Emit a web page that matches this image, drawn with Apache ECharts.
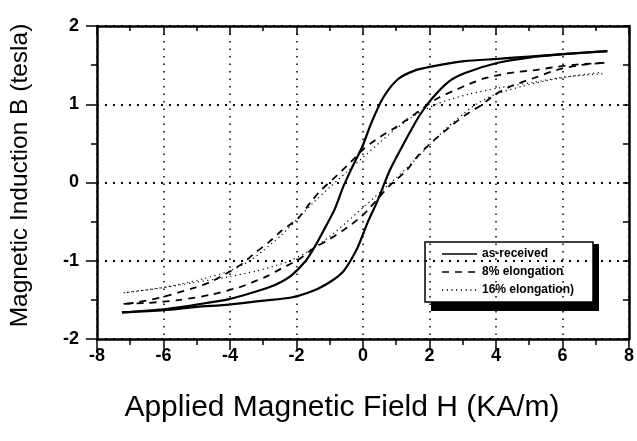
<!DOCTYPE html>
<html>
<head>
<meta charset="utf-8">
<script src="https://cdn.jsdelivr.net/npm/echarts@6/dist/echarts.min.js"></script>
<style>
  html, body { margin: 0; padding: 0; background: #fff; }
  #chart { width: 637px; height: 441px; }
</style>
</head>
<body>
<div id="chart"></div>
<script>
// Hysteresis loops B(H): each loop is an upper (H decreasing) and a lower (H increasing) branch.
const seriesNames = ['as-received', '8% elongation', '16% elongation)'];

const asReceivedUpper = [
  [7.35, 1.68], [6.0, 1.64], [5.0, 1.61], [4.05, 1.58], [3.05, 1.55], [2.05, 1.48],
  [1.55, 1.43], [1.05, 1.32], [0.6, 1.08], [0.25, 0.76], [-0.03, 0.45], [-0.33, 0.19],
  [-0.59, -0.05], [-0.85, -0.34], [-1.18, -0.61], [-1.45, -0.82], [-1.72, -1.0],
  [-2.16, -1.19], [-2.6, -1.3], [-3.05, -1.37], [-4.03, -1.49], [-5.0, -1.56],
  [-6.0, -1.62], [-7.25, -1.66]
];
const asReceivedLower = [
  [-7.25, -1.66], [-6.0, -1.63], [-5.0, -1.59], [-4.03, -1.56], [-3.0, -1.51],
  [-2.16, -1.47], [-1.37, -1.36], [-0.88, -1.24], [-0.6, -1.14], [-0.39, -1.01],
  [-0.15, -0.82], [0.15, -0.5], [0.41, -0.26], [0.8, 0.15], [1.19, 0.47], [1.69, 0.85],
  [2.07, 1.07], [2.58, 1.29], [3.07, 1.4], [4.06, 1.53], [5.04, 1.6], [6.04, 1.64],
  [7.35, 1.68]
];

const elong8Upper = [
  [7.26, 1.53], [6.5, 1.51], [5.84, 1.48], [5.24, 1.44], [4.6, 1.41], [4.15, 1.38],
  [3.65, 1.33], [3.2, 1.26], [2.77, 1.18], [2.3, 1.09], [1.9, 0.98], [1.48, 0.85],
  [1.0, 0.71], [0.5, 0.58], [0.05, 0.44], [-0.35, 0.27], [-0.78, 0.09], [-1.27, -0.1],
  [-1.57, -0.25], [-1.96, -0.46], [-2.46, -0.62], [-2.85, -0.77], [-3.25, -0.9],
  [-3.64, -1.04], [-4.14, -1.17], [-4.58, -1.27], [-5.03, -1.34], [-6.0, -1.46],
  [-6.9, -1.54], [-7.2, -1.55]
];
const elong8Lower = [
  [-7.2, -1.55], [-6.5, -1.54], [-5.5, -1.5], [-4.53, -1.43], [-3.73, -1.34],
  [-3.35, -1.28], [-2.85, -1.19], [-2.46, -1.1], [-1.96, -0.99], [-1.48, -0.84],
  [-1.07, -0.74], [-0.59, -0.61], [-0.09, -0.45], [0.15, -0.35], [0.8, -0.04],
  [1.3, 0.15], [1.69, 0.36], [2.19, 0.56], [2.67, 0.73], [3.07, 0.86], [3.56, 0.99],
  [3.96, 1.12], [4.45, 1.23], [5.24, 1.35], [5.84, 1.44], [6.53, 1.5], [7.26, 1.53]
];

const elong16Upper = [
  [7.2, 1.39], [6.1, 1.35], [5.1, 1.28], [4.1, 1.21], [3.2, 1.13], [2.6, 1.06],
  [2.2, 1.0], [1.6, 0.87], [1.0, 0.69], [0.5, 0.51], [0.0, 0.32], [-0.5, 0.13],
  [-1.0, -0.06], [-1.5, -0.26], [-2.0, -0.48], [-2.5, -0.69], [-3.0, -0.87],
  [-3.4, -1.0], [-4.0, -1.13], [-4.8, -1.23], [-5.5, -1.3], [-6.3, -1.36], [-7.2, -1.41]
];
const elong16Lower = [
  [-7.2, -1.41], [-6.1, -1.35], [-5.1, -1.28], [-4.1, -1.21], [-3.2, -1.13],
  [-2.6, -1.06], [-2.2, -1.0], [-1.6, -0.87], [-1.0, -0.69], [-0.5, -0.51],
  [0.0, -0.32], [0.5, -0.13], [1.0, 0.06], [1.5, 0.26], [2.0, 0.48], [2.5, 0.69],
  [3.0, 0.87], [3.4, 1.0], [4.0, 1.13], [4.8, 1.23], [5.5, 1.3], [6.3, 1.36], [7.2, 1.41]
];

const xRange = { min: -8, max: 8, step: 2 };
const yRange = { min: -2, max: 2, step: 1 };
const xTitle = 'Applied Magnetic Field H (KA/m)';
const yTitle = 'Magnetic Induction B (tesla)';

const FONT = '"Liberation Sans", Arial, sans-serif';
const solidStyle = { color: '#000', width: 2.2, type: 'solid' };
const dashStyle = { color: '#000', width: 1.8, type: [7, 6] };
const dotStyle = { color: '#000', width: 1.2, type: [1.2, 3.5] };

function branch(name, data, style) {
  return {
    name: name, type: 'line', data: data, xAxisIndex: 0, yAxisIndex: 0,
    showSymbol: false, smooth: 0.25, lineStyle: style, silent: true, z: 3
  };
}

const frameLine = { show: true, onZero: false, lineStyle: { color: '#000', width: 2.5 } };

const chart = echarts.init(document.getElementById('chart'), null, { renderer: 'canvas' });

// Legend box with a drop shadow, drawn as graphics
const legendX = 425, legendY = 242, legendW = 168, legendH = 60;
const rowY = [254, 272, 290];
const legendStyles = [solidStyle, dashStyle, dotStyle];
const legendChildren = [
  { type: 'rect', shape: { x: legendX + 6, y: legendY + 2, width: legendW, height: legendH + 7 },
    style: { fill: '#000' } },
  { type: 'rect', shape: { x: legendX, y: legendY, width: legendW, height: legendH },
    style: { fill: '#fff', stroke: '#000', lineWidth: 1.5 } }
];
seriesNames.forEach(function (nm, i) {
  const st = legendStyles[i];
  legendChildren.push({
    type: 'line', shape: { x1: 442, y1: rowY[i], x2: 477, y2: rowY[i] },
    style: { stroke: '#000', lineWidth: i === 0 ? 1.5 : 1.3, lineDash: st.type === 'solid' ? null : st.type }
  });
  legendChildren.push({
    type: 'text', x: 482, y: rowY[i],
    style: { text: nm, font: 'bold 12px ' + FONT, fill: '#000', verticalAlign: 'middle' }
  });
});

const option = {
  animation: false,
  backgroundColor: '#fff',
  grid: { left: 93, right: 4, top: 26, bottom: 102 },
  xAxis: [
    {
      type: 'value', position: 'bottom', min: xRange.min, max: xRange.max, interval: xRange.step,
      axisLine: frameLine,
      axisTick: { show: true, inside: false, length: 11, lineStyle: { color: '#000', width: 1.5 } },
      minorTick: { show: true, splitNumber: 2, length: 6, lineStyle: { color: '#000', width: 1.5 } },
      axisLabel: { color: '#000', fontSize: 18, fontWeight: 'bold', fontFamily: FONT, margin: 8 },
      splitLine: { show: true, lineStyle: { color: '#000', width: 1.5, type: [1.5, 6] } },
      name: xTitle, nameLocation: 'middle', nameGap: 54,
      nameTextStyle: { color: '#000', fontSize: 30, fontFamily: FONT, padding: [0, 42, 0, 0] }
    },
    {
      type: 'value', position: 'top', min: xRange.min, max: xRange.max, interval: xRange.step,
      axisLine: frameLine,
      axisTick: { show: true, inside: true, length: 9, lineStyle: { color: '#000', width: 1.5 } },
      minorTick: { show: true, splitNumber: 2, length: 5, lineStyle: { color: '#000', width: 1.5 } },
      axisLabel: { show: false }, splitLine: { show: false }
    }
  ],
  yAxis: [
    {
      type: 'value', position: 'left', min: yRange.min, max: yRange.max, interval: yRange.step,
      axisLine: frameLine,
      axisTick: { show: true, inside: false, length: 11, lineStyle: { color: '#000', width: 1.5 } },
      minorTick: { show: true, splitNumber: 2, length: 6, lineStyle: { color: '#000', width: 1.5 } },
      axisLabel: { color: '#000', fontSize: 18, fontWeight: 'bold', fontFamily: FONT, margin: 18 },
      splitLine: { show: true, lineStyle: { color: '#000', width: 2, type: [2, 6] } },
      name: yTitle, nameLocation: 'middle', nameGap: 64, nameRotate: 90,
      nameTextStyle: { color: '#000', fontSize: 24.5, fontFamily: FONT, padding: [0, 0, 0, 14] }
    },
    {
      type: 'value', position: 'right', min: yRange.min, max: yRange.max, interval: yRange.step,
      axisLine: frameLine,
      axisTick: { show: true, inside: true, length: 6, lineStyle: { color: '#000', width: 1.5 } },
      minorTick: { show: true, splitNumber: 2, length: 6, lineStyle: { color: '#000', width: 1.5 } },
      axisLabel: { show: false }, splitLine: { show: false }
    }
  ],
  series: [
    branch(seriesNames[0], asReceivedUpper, solidStyle),
    branch(seriesNames[0], asReceivedLower, solidStyle),
    branch(seriesNames[1], elong8Upper, dashStyle),
    branch(seriesNames[1], elong8Lower, dashStyle),
    branch(seriesNames[2], elong16Upper, dotStyle),
    branch(seriesNames[2], elong16Lower, dotStyle)
  ],
  graphic: [{ type: 'group', children: legendChildren, z: 100 }]
};

chart.setOption(option);
</script>
</body>
</html>
